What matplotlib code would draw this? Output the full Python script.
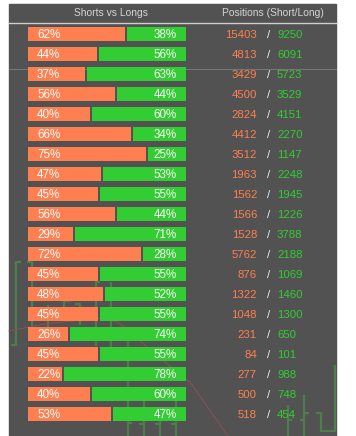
import numpy as np
import matplotlib.pyplot as plt
from matplotlib.patches import Rectangle

# shorts vs longs (%), one entry per row, top to bottom
short_pct = [62, 44, 37, 56, 40, 66, 75, 47, 45, 56, 29, 72, 45, 48, 45, 26, 45, 22, 40, 53]
long_pct = [38, 56, 63, 44, 60, 34, 25, 53, 55, 44, 71, 28, 55, 52, 55, 74, 55, 78, 60, 47]
short_pos = [15403, 4813, 3429, 4500, 2824, 4412, 3512, 1963, 1562, 1566,
             1528, 5762, 876, 1322, 1048, 231, 84, 277, 500, 518]
long_pos = [9250, 6091, 5723, 3529, 4151, 2270, 1147, 2248, 1945, 1226,
            3788, 2188, 1069, 1460, 1300, 650, 101, 988, 748, 454]
headers = ["Shorts vs Longs", "Positions (Short/Long)"]

BG = "#525252"
ORANGE = "#ff7f50"
GREEN = "#32cd32"
GHOST_GREEN = "#4e7d4e"
GHOST_RED = "#8c5058"
W, H = 356, 436
FONT = ["Liberation Sans", "DejaVu Sans"]

# faint chart showing through the panel (decoration only, pixel coords)
ghost_green = [
    [(21, 262), (16, 262), (16, 345), (11, 345)],
    [(27, 262), (32, 262), (32, 330), (36, 330)],
    [(48, 305), (48, 327)],
    [(70, 301), (64, 301), (64, 320)],
    [(75, 304), (80, 304), (80, 325)],
    [(100, 282), (96, 282), (96, 346)],
    [(111, 282), (111, 348)],
    [(128, 327), (128, 436)],
    [(144, 400), (144, 436)],
    [(139, 424), (144, 424)],
    [(160, 407), (160, 436)],
    [(155, 424), (160, 424)],
    [(176, 400), (176, 436)],
    [(171, 424), (176, 424)],
    [(128, 423), (132, 423)],
    [(288, 405), (288, 436)],
    [(288, 420), (292, 420)],
    [(304, 395), (304, 436)],
    [(300, 420), (304, 420), (304, 413), (309, 413)],
    [(316, 413), (321, 413), (321, 431), (334, 431)],
    [(335, 365), (335, 432)],
]
ghost_red = [(9, 331), (45, 324), (97, 318), (118, 322), (160, 358), (190, 382), (228, 436)]

fig = plt.figure(figsize=(W / 100, H / 100), dpi=100)
fig.patch.set_facecolor("white")
ax = fig.add_axes([0, 0, 1, 1])
ax.set_xlim(0, W)
ax.set_ylim(H, 0)
ax.axis("off")

# dark panel + header separators
ax.add_patch(Rectangle((9, 4), 327, H, color=BG, zorder=0))
ax.plot([9, 336], [23, 23], color="#cfcfcf", lw=1.0, zorder=1)
ax.plot([9, 336], [69, 69], color="#767676", lw=0.8, zorder=1)

for seg in ghost_green:
    xs, ys = zip(*seg)
    ax.plot(xs, ys, color=GHOST_GREEN, lw=1.6, zorder=1, solid_capstyle="butt")
xs, ys = zip(*ghost_red)
ax.plot(xs, ys, color=GHOST_RED, lw=0.7, zorder=1)

ax.text(111, 13.5, headers[0], color="#d4d4d4", fontsize=7.4, ha="center", va="center", family=FONT)
ax.text(273, 13.5, headers[1], color="#d4d4d4", fontsize=7.4, ha="center", va="center", family=FONT)

x0, span, gap = 28, 158, 1.0
y = 34 + 20 * np.arange(len(short_pct))
s = np.array(short_pct) / 100 * span
l = np.array(long_pct) / 100 * span

ax.barh(y, s - gap, left=x0, height=14, color=ORANGE, zorder=3)
ax.barh(y, l - gap, left=x0 + s + gap, height=14, color=GREEN, zorder=3)

for yi, sp, lp, sn, ln in zip(y, short_pct, long_pct, short_pos, long_pos):
    ax.text(37, yi + 0.5, f"{sp}%", color="white", fontsize=8.4, ha="left", va="center", zorder=4, family=FONT)
    ax.text(177, yi + 0.5, f"{lp}%", color="white", fontsize=8.4, ha="right", va="center", zorder=4, family=FONT)
    ax.text(257, yi + 0.5, f"{sn}", color=ORANGE, fontsize=8.2, ha="right", va="center", zorder=4, family=FONT)
    ax.text(269, yi + 0.5, "/", color="#e6eef8", fontsize=8.2, ha="center", va="center", zorder=4, family=FONT)
    ax.text(277, yi + 0.5, f"{ln}", color=GREEN, fontsize=8.2, ha="left", va="center", zorder=4, family=FONT)

fig.savefig("out.png", dpi=100, facecolor=fig.get_facecolor())
